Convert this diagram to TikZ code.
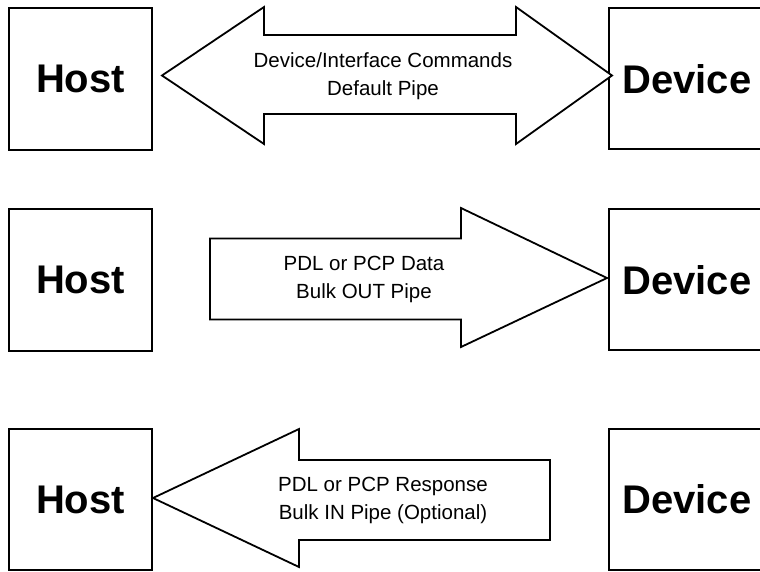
\documentclass[tikz,border=0pt]{standalone}
\usepackage{fontspec}
\setmainfont{Liberation Sans}
\begin{document}
\begin{tikzpicture}[x=1pt,y=-1pt,
  box/.style={draw=black,line width=1.8pt,inner sep=0pt,fill=white},
  big/.style={font=\bfseries\fontsize{40}{40}\selectfont,inner sep=0pt},
  lab/.style={font=\fontsize{20.5}{24}\selectfont,inner sep=0pt,anchor=base},
  blockarrow/.style={draw=black,line width=1.8pt,line join=miter,fill=white}]
\useasboundingbox (0,0) rectangle (760,571);
\clip (0,0) rectangle (760,571);
% ---- row 1
\node[box,minimum width=143pt,minimum height=142pt] (h1) at (80.5,79) {};
\node[big] (h1t) at (h1.center) {Host};
\node[box,minimum width=170pt,minimum height=141pt] (d1) at (694,78.5) {};
\node[big] (d1t) at (687,79) {Device};
\draw[blockarrow] (162,75.5) -- (264,7) -- (264,35) -- (516,35) -- (516,7) -- (612,75.5)
  -- (516,144) -- (516,114) -- (264,114) -- (264,144) -- cycle;
\node[lab] (l1a) at (383,67) {Device/Interface Commands};
\node[lab] (l1b) at (383,95) {Default Pipe};
% ---- row 2
\node[box,minimum width=143pt,minimum height=142pt] (h2) at (80.5,280) {};
\node[big] (h2t) at (h2.center) {Host};
\node[box,minimum width=170pt,minimum height=141pt] (d2) at (694,279.5) {};
\node[big] (d2t) at (687,280) {Device};
\draw[blockarrow] (210,238.5) -- (461,238.5) -- (461,208) -- (607,278) -- (461,347)
  -- (461,319.5) -- (210,319.5) -- cycle;
\node[lab] (l2a) at (364,270) {PDL or PCP Data};
\node[lab] (l2b) at (364,298) {Bulk OUT Pipe};
% ---- row 3
\node[box,minimum width=143pt,minimum height=141pt] (h3) at (80.5,499.5) {};
\node[big] (h3t) at (h3.center) {Host};
\node[box,minimum width=170pt,minimum height=141pt] (d3) at (694,499.5) {};
\node[big] (d3t) at (687,499.5) {Device};
\draw[blockarrow] (153,498) -- (299,429) -- (299,460) -- (550,460) -- (550,540)
  -- (299,540) -- (299,567) -- cycle;
\node[lab] (l3a) at (383,491) {PDL or PCP Response};
\node[lab] (l3b) at (383,519) {Bulk IN Pipe (Optional)};
\end{tikzpicture}
\end{document}
